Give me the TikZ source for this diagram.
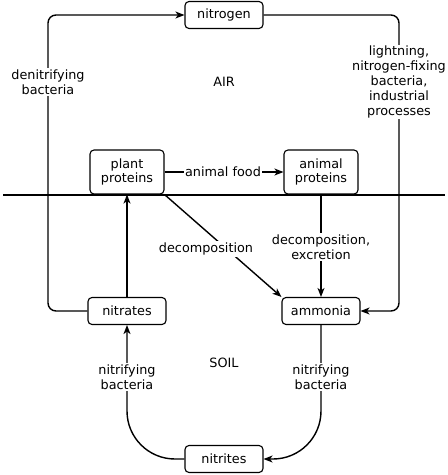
\documentclass[tikz,border=0pt]{standalone}
\usepackage{fontspec}
\setmainfont{DejaVu Sans}
\usetikzlibrary{arrows.meta}

\tikzset{
    stage/.style={draw, line width=1.1pt, rounded corners=4pt, align=center,
        minimum width=78pt, minimum height=27pt, inner sep=2pt},
    flow/.style={line width=1.4pt, -{Stealth[length=9pt,width=7pt,inset=2.5pt]}},
    tag/.style={fill=white, align=center, inner sep=1.5pt},
}

\begin{document}
\begin{tikzpicture}[x=1pt, y=-1pt, font=\fontsize{12.8}{14.8}\selectfont]
        \useasboundingbox (0,0) rectangle (448,475);

        % Boxes
        \node[stage] (nitrogen) at (224,15) {nitrogen};
        \node[stage, minimum width=74pt, minimum height=44pt] (plant) at (127,172) {plant\\proteins};
        \node[stage, minimum width=74pt, minimum height=44pt] (animal) at (321,172) {animal\\proteins};
        \node[stage] (nitrates) at (127,311) {nitrates};
        \node[stage] (ammonia) at (321,311) {ammonia};
        \node[stage] (nitrites) at (224,459) {nitrites};

        % Ground
        \draw[line width=2.8pt] (3,195) -- (445,195);

        % Regions
        \node (air) at (224,82) {AIR};
        \node (soil) at (224,363) {SOIL};

        % Outer loop
        \draw[flow, rounded corners=8pt] (nitrates.west) -| (48,15) -- (nitrogen.west);
        \draw[flow, rounded corners=8pt] (nitrogen.east) -| (399,311) -- (ammonia.east);

        % Inner flows
        \draw[flow] (plant.east) -- (animal.west);
        \draw[flow] (animal.south) -- (ammonia.north);
        \draw[flow] (plant.south east) -- (ammonia.north west);
        \draw[flow] (nitrates.north) -- (plant.south);
        \draw[flow, rounded corners=48pt] (nitrites.west) -| (nitrates.south);
        \draw[flow, rounded corners=48pt] (ammonia.south) |- (nitrites.east);

        % Labels
        \node[tag] (denit) at (48,82) {denitrifying\\bacteria};
        \node[tag] (fix) at (399,82) {lightning,\\nitrogen-fixing\\bacteria,\\industrial\\processes};
        \node[tag] (food) at (223,172) {animal food};
        \node[tag] (decomp) at (206,249) {decomposition};
        \node[tag] (excr) at (321,247) {decomposition,\\excretion};
        \node[tag] (nitl) at (127,377) {nitrifying\\bacteria};
        \node[tag] (nitr) at (321,377) {nitrifying\\bacteria};
    \end{tikzpicture}
\end{document}
